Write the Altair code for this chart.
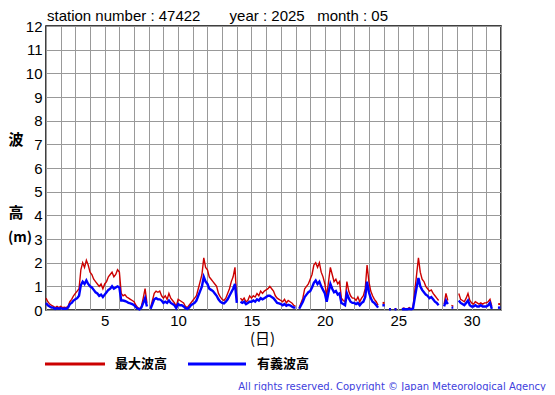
import altair as alt
import pandas as pd

# 3-hourly readings (8 per day), May 1 .. May 31; None = missing
max_wave = [
    0.5, 0.35, 0.25, 0.2, 0.15, 0.1, 0.15, 0.1,
    0.15, 0.1, 0.12, 0.1, 0.15, 0.35, 0.45, 0.6,
    0.7, 0.8, 0.9, 1.7, 2.0, 1.8, 2.1, 1.9,
    1.6, 1.5, 1.3, 1.2, 1.1, 1.0, 1.1, 0.9,
    1.1, 1.2, 1.4, 1.5, 1.6, 1.4, 1.5, 1.7,
    1.6, 0.7, 0.6, 0.65, 0.55, 0.5, 0.45, 0.4,
    0.35, 0.2, 0.1, 0.05, 0.15, 0.5, 0.9, 0.3,
    None, 0.1, 0.4, 0.7, 0.8, 0.75, 0.8, 0.6,
    0.5, 0.6, 0.45, 0.7, 0.5, 0.4, 0.3, 0.15,
    0.45, 0.4, 0.35, 0.3, 0.15, 0.1, 0.2, 0.3,
    0.4, 0.5, 0.6, 0.9, 1.2, 1.5, 2.2, 1.8,
    1.7, 1.4, 1.3, 1.2, 1.1, 1.0, 0.7, 0.55,
    0.45, 0.4, 0.5, 0.7, 0.9, 1.2, 1.4, 1.8,
    0.4, None, 0.5, 0.4, 0.5, 0.35, 0.4, 0.6,
    0.5, 0.6, 0.55, 0.7, 0.6, 0.8, 0.7, 0.8,
    0.85, 0.9, 1.0, 0.9, 0.8, 0.6, 0.5, 0.45,
    0.4, 0.35, 0.45, 0.3, 0.4, 0.35, 0.3, 0.2,
    0.15, None, 0.1, 0.3, 0.5, 0.9, 1.0, 1.1,
    1.3, 1.5, 1.9, 2.0, 1.8, 2.0, 1.6, 1.4,
    1.1, 0.6, 1.2, 1.8, 1.5, 1.2, 1.3, 1.1,
    1.2, 0.5, 0.4, 0.35, 1.2, 0.8, 0.6, 0.5,
    0.5, 0.4, 0.55, 0.35, 0.5, 0.6, 0.9, 1.9,
    1.2, 0.8, 0.6, 0.45, 0.35, 0.2, None, None,
    0.3, None, None, 0.05, 0.05, None, 0.05, 0.05,
    None, None, 0.05, 0.08, 0.05, 0.05, 0.1, 0.05,
    0.1, 0.8, 1.5, 2.2, 1.6, 1.3, 1.2, 1.0,
    0.9, 0.8, 0.85, 0.7, 0.6, 0.5, 0.4, None,
    None, 0.25, 0.7, 0.4, None, 0.2, 0.15, None,
    None, 0.7, 0.45, 0.4, 0.35, 0.5, 0.7, 0.4,
    0.3, 0.25, 0.35, 0.3, 0.25, 0.3, 0.25, 0.3,
    0.3, 0.35, 0.45, 0.15, None, None, None, 0.25,
]

sig_wave = [
    0.3, 0.2, 0.15, 0.1, 0.1, 0.05, 0.08, 0.05,
    0.08, 0.05, 0.06, 0.05, 0.1, 0.25, 0.3, 0.4,
    0.45, 0.5, 0.6, 1.05, 1.2, 1.1, 1.25, 1.1,
    1.0, 0.95, 0.85, 0.75, 0.7, 0.6, 0.65, 0.55,
    0.65, 0.75, 0.85, 0.9, 1.0, 0.9, 0.95, 1.0,
    0.95, 0.4, 0.4, 0.38, 0.35, 0.3, 0.28, 0.25,
    0.2, 0.12, 0.06, 0.03, 0.1, 0.3, 0.5, 0.15,
    None, 0.05, 0.25, 0.45, 0.5, 0.45, 0.45, 0.4,
    0.3, 0.35, 0.3, 0.4, 0.3, 0.25, 0.2, 0.08,
    0.25, 0.2, 0.2, 0.15, 0.08, 0.05, 0.1, 0.2,
    0.25, 0.3, 0.4, 0.6, 0.8, 1.0, 1.4, 1.2,
    1.1, 0.9, 0.85, 0.8, 0.7, 0.6, 0.45, 0.35,
    0.3, 0.28, 0.35, 0.45, 0.6, 0.75, 0.9, 1.1,
    0.3, None, 0.35, 0.3, 0.35, 0.25, 0.3, 0.35,
    0.35, 0.4, 0.35, 0.45, 0.4, 0.5, 0.45, 0.5,
    0.55, 0.6, 0.6, 0.55, 0.5, 0.4, 0.3, 0.28,
    0.25, 0.2, 0.25, 0.18, 0.22, 0.2, 0.15, 0.1,
    0.1, None, 0.05, 0.2, 0.35, 0.55, 0.65, 0.75,
    0.8, 0.95, 1.15, 1.25, 1.1, 1.2, 1.0, 0.85,
    0.7, 0.35, 0.75, 1.1, 0.9, 0.75, 0.8, 0.65,
    0.7, 0.3, 0.25, 0.2, 0.7, 0.5, 0.35, 0.3,
    0.3, 0.25, 0.3, 0.2, 0.3, 0.35, 0.55, 1.2,
    0.75, 0.5, 0.35, 0.3, 0.2, 0.1, None, None,
    0.2, None, None, 0.03, 0.03, None, 0.03, 0.03,
    None, None, 0.03, 0.04, 0.03, 0.03, 0.05, 0.03,
    0.05, 0.5, 0.95, 1.35, 1.0, 0.85, 0.75, 0.65,
    0.6, 0.5, 0.55, 0.45, 0.35, 0.3, 0.2, None,
    None, 0.15, 0.4, 0.25, None, 0.1, 0.1, None,
    None, 0.4, 0.3, 0.25, 0.2, 0.3, 0.4, 0.2,
    0.15, 0.15, 0.2, 0.15, 0.15, 0.2, 0.15, 0.15,
    0.15, 0.2, 0.3, 0.05, None, None, None, 0.1,
]

per_day = 8
day_ticks = list(range(1, 33))
y_ticks = list(range(0, 13))
title_text = "station number : 47422\u00a0\u00a0\u00a0\u00a0\u00a0\u00a0\u00a0year : 2025\u00a0\u00a0\u00a0month : 05"
y_title_parts = ["波", "高", "(m)"]
legend_max = "最大波高"
legend_sig = "有義波高"
copyright_text = "All rights reserved. Copyright © Japan Meteorological Agency"

t = [1 + i / per_day for i in range(len(max_wave))]


def isolated(vals):
    out = []
    for i, v in enumerate(vals):
        prev_ok = i > 0 and vals[i - 1] is not None
        next_ok = i < len(vals) - 1 and vals[i + 1] is not None
        out.append(v is not None and not prev_ok and not next_ok)
    return out


df = pd.DataFrame({
    "t": t,
    "max": [float("nan") if v is None else v for v in max_wave],
    "sig": [float("nan") if v is None else v for v in sig_wave],
    "iso_max": isolated(max_wave),
    "iso_sig": isolated(sig_wave),
})

W, H = 455, 284

x_scale = alt.Scale(domain=[1, 32], nice=False, zero=False)
y_scale = alt.Scale(domain=[0, 12], nice=False)

x_axis = alt.Axis(
    values=day_ticks, tickCount=40, grid=True, ticks=False, domain=False, labelOverlap=False,
    labelExpr="datum.value % 5 == 0 ? datum.label : ''", format="d",
    labelFont="Liberation Sans", labelFontSize=15, labelColor="black", labelPadding=3,
    labelFlush=False,
    title="(日)", titleFont="Noto Sans CJK JP", titleFontSize=15, titleFontWeight="normal",
    titleColor="black", titleX=216, titleY=28, titleBaseline="middle",
)
y_axis = alt.Axis(
    values=y_ticks, tickCount=20, grid=True, ticks=False, domain=False, labelOverlap=False,
    format="d",
    labelFont="Liberation Sans", labelFontSize=15, labelColor="black", labelPadding=4,
    title="",
)

base = alt.Chart(df)

red = base.mark_line(color="#cc0000", strokeWidth=1.4, invalid="break-paths-show-domains").encode(
    x=alt.X("t:Q", scale=x_scale, axis=x_axis),
    y=alt.Y("max:Q", scale=y_scale, axis=y_axis),
)
red_pts = base.transform_filter("datum.iso_max").mark_square(color="#cc0000", size=4, opacity=1).encode(
    x=alt.X("t:Q", scale=x_scale), y=alt.Y("max:Q", scale=y_scale)
)
blue = base.mark_line(color="#0000ff", strokeWidth=2.4, invalid="break-paths-show-domains").encode(
    x=alt.X("t:Q", scale=x_scale), y=alt.Y("sig:Q", scale=y_scale)
)
blue_pts = base.transform_filter("datum.iso_sig").mark_square(color="#0000ff", size=6, opacity=1).encode(
    x=alt.X("t:Q", scale=x_scale), y=alt.Y("sig:Q", scale=y_scale)
)

one = pd.DataFrame({"k": [0]})
ann = alt.Chart(one)
head_t = ann.mark_text(align="left", baseline="alphabetic", font="Liberation Sans",
                       fontSize=15, color="black").encode(
    x=alt.value(1), y=alt.value(-5), text=alt.value(title_text))


def ytitle(txt, x, y, size=15):
    return ann.mark_text(align="center", baseline="middle", font="Noto Sans CJK JP",
                         fontSize=size, fontWeight="bold", color="black").encode(
        x=alt.value(x), y=alt.value(y), text=alt.value(txt))


yt1 = ytitle(y_title_parts[0], -30, 114)
yt2 = ytitle(y_title_parts[1], -30, 187)
yt3 = ytitle(y_title_parts[2], -26, 212, 14)

leg_red = ann.mark_rule(color="#cc0000", strokeWidth=3).encode(
    x=alt.value(-1), x2=alt.value(59), y=alt.value(338))
leg_red_t = ann.mark_text(align="left", baseline="middle", font="Noto Sans CJK JP",
                          fontSize=13, fontWeight="bold", color="black").encode(
    x=alt.value(69), y=alt.value(338), text=alt.value(legend_max))
leg_blue = ann.mark_rule(color="#0000ff", strokeWidth=3).encode(
    x=alt.value(142), x2=alt.value(200), y=alt.value(338))
leg_blue_t = ann.mark_text(align="left", baseline="middle", font="Noto Sans CJK JP",
                           fontSize=13, fontWeight="bold", color="black").encode(
    x=alt.value(211), y=alt.value(338), text=alt.value(legend_sig))
copy_t = ann.mark_text(align="right", baseline="middle", font="DejaVu Sans",
                       fontSize=10, color="#4040dd").encode(
    x=alt.value(500), y=alt.value(361), text=alt.value(copyright_text))

chart = alt.layer(
    red, red_pts, blue, blue_pts, head_t, yt1, yt2, yt3,
    leg_red, leg_red_t, leg_blue, leg_blue_t, copy_t
).properties(
    width=W, height=H,
    autosize=alt.AutoSizeParams(type="none"),
    padding={"left": 38, "top": 18, "right": 46, "bottom": 81},
).configure_view(
    stroke="black", strokeWidth=1.5
).configure_axis(
    gridColor="#999999", gridWidth=1, gridOpacity=1
)

chart.save("out.html", embed_options={"renderer": "svg", "actions": False})
